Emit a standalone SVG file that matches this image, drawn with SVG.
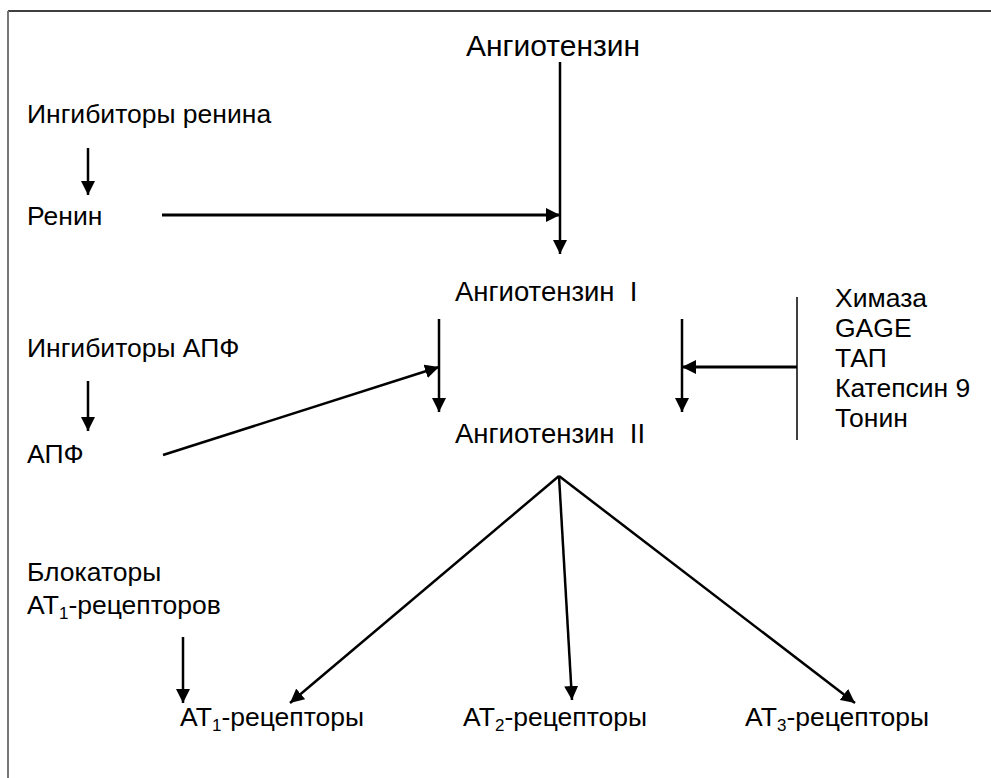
<svg xmlns="http://www.w3.org/2000/svg" width="991" height="778" viewBox="0 0 991 778">
<style>
text{font-family:"Liberation Sans",Arial,sans-serif;font-size:26.5px;fill:#000}
.t{font-size:30px}
.m{font-size:27.5px}
.sub{font-size:17px}
.c{stroke:#000;stroke-width:2.5;fill:none}
.thick{stroke-width:3}
.thin{stroke-width:1.5}
</style>
<defs>
<marker id="ah" markerUnits="userSpaceOnUse" markerWidth="14" markerHeight="14" viewBox="0 0 14 14" refX="14" refY="7" orient="auto">
<path d="M0,0 L14,7 L0,14 Z" fill="#000"/>
</marker>
</defs>
<rect width="991" height="778" fill="#fff"/>
<line x1="8" y1="11" x2="991" y2="11" stroke="#000" stroke-width="1.5"/>
<line x1="8" y1="11" x2="8" y2="778" stroke="#777" stroke-width="2"/>
<g id="angiotensinogen"><text class="t" x="466" y="56">Ангиотензин</text></g>
<g id="renin-inhibitors"><text x="27" y="123">Ингибиторы ренина</text></g>
<g id="renin"><text x="27" y="225">Ренин</text></g>
<g id="angiotensin1"><text class="m" x="455" y="301" xml:space="preserve">Ангиотензин  I</text></g>
<g id="ace-inhibitors"><text x="27" y="357">Ингибиторы АПФ</text></g>
<g id="ace"><text x="27" y="463">АПФ</text></g>
<g id="angiotensin2"><text class="m" x="455" y="443" xml:space="preserve">Ангиотензин  II</text></g>
<g id="enzymes">
<text x="835" y="307">Химаза</text>
<text x="835" y="337">GAGE</text>
<text x="835" y="367">ТАП</text>
<text x="835" y="397">Катепсин 9</text>
<text x="835" y="427">Тонин</text>
</g>
<g id="arb"><text x="27" y="581">Блокаторы</text><text x="27" y="614">AT<tspan class="sub" dy="5">1</tspan><tspan dy="-5">-рецепторов</tspan></text></g>
<g id="at1"><text x="180" y="726">AT<tspan class="sub" dy="5">1</tspan><tspan dy="-5">-рецепторы</tspan></text></g>
<g id="at2"><text x="463" y="726">AT<tspan class="sub" dy="5">2</tspan><tspan dy="-5">-рецепторы</tspan></text></g>
<g id="at3"><text x="745" y="726">AT<tspan class="sub" dy="5">3</tspan><tspan dy="-5">-рецепторы</tspan></text></g>
<g id="connectors">
<line class="c" x1="560" y1="62" x2="560" y2="254" marker-end="url(#ah)"/>
<line class="c thick" x1="162" y1="215" x2="560" y2="215" marker-end="url(#ah)"/>
<line class="c" x1="88" y1="148" x2="88" y2="195" marker-end="url(#ah)"/>
<line class="c" x1="88" y1="381" x2="88" y2="431" marker-end="url(#ah)"/>
<line class="c" x1="183" y1="637" x2="183" y2="703" marker-end="url(#ah)"/>
<line class="c" x1="439" y1="319" x2="439" y2="412" marker-end="url(#ah)"/>
<line class="c" x1="682" y1="319" x2="682" y2="412" marker-end="url(#ah)"/>
<line class="c" x1="163" y1="455" x2="439" y2="367" marker-end="url(#ah)"/>
<line class="c thin" x1="797" y1="297" x2="797" y2="440"/>
<line class="c thick" x1="797" y1="367" x2="682" y2="367" marker-end="url(#ah)"/>
<line class="c" x1="559" y1="476" x2="290" y2="703" marker-end="url(#ah)"/>
<line class="c" x1="559" y1="476" x2="572" y2="700" marker-end="url(#ah)"/>
<line class="c" x1="559" y1="476" x2="855" y2="703" marker-end="url(#ah)"/>
</g>
</svg>
